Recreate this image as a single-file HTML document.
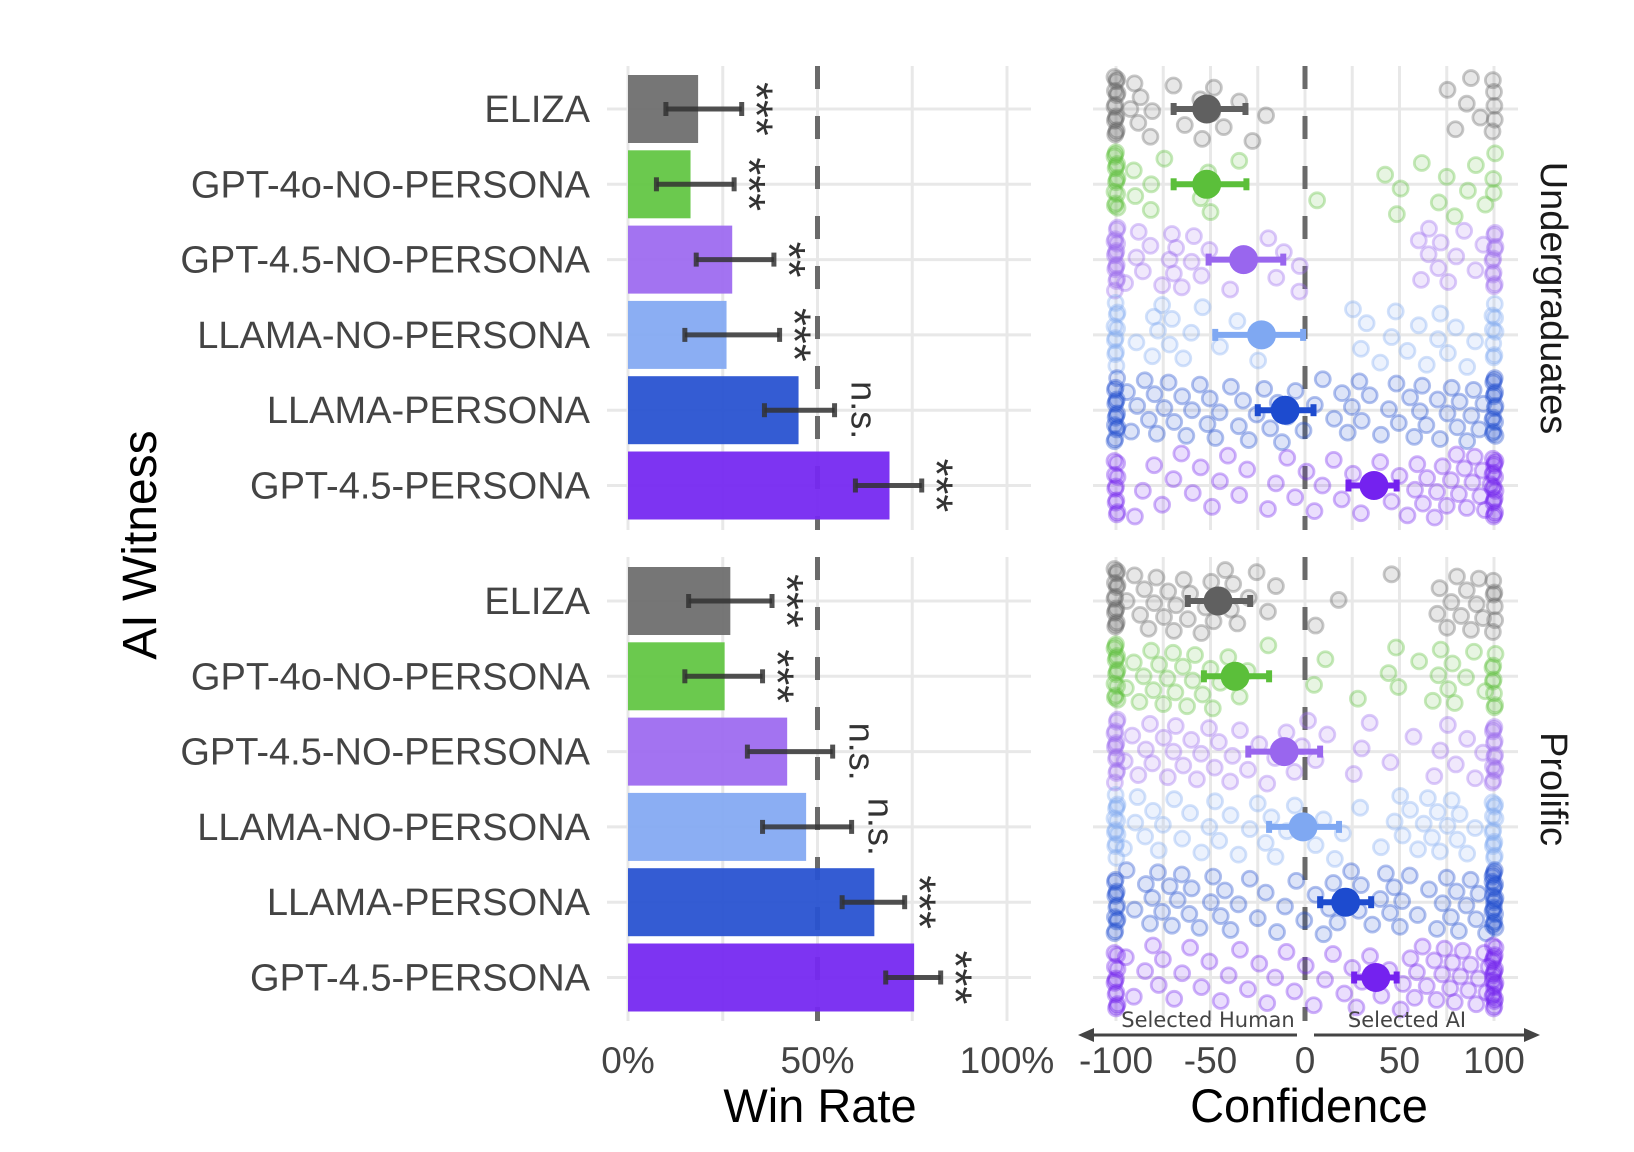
<!DOCTYPE html>
<html><head><meta charset="utf-8"><style>
html,body{margin:0;padding:0;background:#fff}
body{position:relative;width:1634px;height:1152px;overflow:hidden}
svg{display:block;font-family:"Liberation Sans",Arial,sans-serif}
</style></head><body>
<svg id="chart" width="1634" height="1152" viewBox="0 0 1634 1152" xmlns="http://www.w3.org/2000/svg">
<g id="grid"></g><g id="marks"></g><g id="labels"></g>
</svg>
<script>
// ---- data ----
const witnesses = ["ELIZA","GPT-4o-NO-PERSONA","GPT-4.5-NO-PERSONA","LLAMA-NO-PERSONA","LLAMA-PERSONA","GPT-4.5-PERSONA"];
const facets = ["Undergraduates","Prolific"];
const winRateUG = [18.5,16.5,27.5,26,45,69];
const winLoUG = [10,7.5,18,15,36,60];
const winHiUG = [30,28,38.5,40,54.5,77.5];
const sigUG = ["***","***","**","***","n.s.","***"];
const winRatePR = [27,25.5,42,47,65,75.5];
const winLoPR = [16,15,31.5,35.5,56.5,68];
const winHiPR = [38,35.5,54,59,73,82.5];
const sigPR = ["***","***","n.s.","n.s.","***","***"];
const confMeanUG = [-52,-52,-32.5,-23,-10.5,36.5];
const confLoUG = [-69.5,-69.5,-51,-47.5,-25,23];
const confHiUG = [-31.5,-31,-11.5,-1,4.5,48.5];
const confMeanPR = [-46,-37,-11,-1,21.5,37.5];
const confLoPR = [-62,-53.5,-30,-19,8,26];
const confHiPR = [-29,-19,8,18,35,48.5];
const xTicksWin = ["0%","50%","100%"];
const xTickWinVals = [0,50,100];
const xTicksConf = ["-100","-50","0","50","100"];
const xTickConfVals = [-100,-50,0,50,100];
function rep(v,n){return Array(n).fill(v);}
const scatterUG = [
 [...rep(-100,14),-93,-90,-89,-87,-81,-81,-69,-64,-55,-55,-49,-49,-43,-34,-28,-20,75,80,85,88,92,...rep(100,5)],
 [...rep(-100,14),-90,-90,-82,-81,-75,-55,-52,-50,-50,-35,7,42,49,50,62,70,75,80,86,91,95,...rep(100,3)],
 [...rep(-100,14),-95,-90,-88,-85,-82,-75,-72,-70,-70,-68,-66,-60,-58,-55,-50,-40,-30,-20,-15,-12,-3,-2,60,62,65,66,70,72,75,80,85,90,95,...rep(100,10)],
 [...rep(-100,10),-90,-80,-80,-78,-75,-72,-70,-65,-60,-55,-45,-35,-25,-20,25,30,32,40,45,48,55,60,65,70,72,75,80,85,90,...rep(100,8)],
 [...rep(-100,14),-95,-92,-88,-85,-82,-80,-78,-75,-72,-70,-65,-62,-60,-55,-52,-50,-48,-45,-40,-35,-32,-30,-25,-22,-18,-15,-12,-10,-5,0,5,10,15,20,22,25,28,30,35,40,45,48,50,55,58,60,62,65,70,72,75,78,80,82,85,88,90,92,95,...rep(100,14)],
 [...rep(-100,10),-90,-85,-80,-75,-70,-65,-60,-55,-50,-45,-40,-35,-30,-20,-15,-10,-5,0,5,10,15,20,25,30,35,40,45,50,55,58,60,62,65,68,70,72,75,78,80,82,84,86,88,90,92,94,96,98,...rep(100,16)]
];
const scatterPR = [
 [...rep(-100,14),-95,-90,-88,-85,-82,-80,-78,-75,-72,-70,-68,-65,-62,-60,-55,-52,-50,-48,-45,-42,-40,-38,-35,-30,-25,-20,-15,5,18,45,70,72,75,78,80,83,85,88,90,92,95,...rep(100,6)],
 [...rep(-100,14),-95,-90,-88,-85,-82,-80,-78,-75,-72,-70,-68,-65,-62,-60,-58,-55,-50,-48,-45,-40,-35,-30,-20,5,10,28,45,48,50,60,68,70,72,75,78,80,85,90,95,...rep(100,8)],
 [...rep(-100,12),-95,-92,-88,-85,-82,-80,-75,-72,-70,-68,-65,-60,-58,-55,-50,-48,-45,-40,-38,-35,-30,-25,-20,-15,-10,-5,-2,2,5,12,25,30,35,45,58,68,72,75,80,85,90,95,...rep(100,12)],
 [...rep(-100,12),-95,-90,-88,-85,-80,-78,-75,-70,-65,-60,-55,-50,-48,-45,-40,-35,-30,-25,-20,-18,-15,-10,-5,5,10,15,20,30,40,48,50,52,55,60,62,65,68,70,72,75,78,80,82,85,90,...rep(100,12)],
 [...rep(-100,12),-95,-90,-85,-82,-80,-78,-75,-72,-70,-68,-65,-62,-60,-55,-50,-48,-45,-42,-40,-35,-30,-25,-20,-15,-10,-5,0,5,10,12,15,18,20,25,28,30,35,40,42,45,48,50,52,55,60,65,70,72,75,78,80,82,85,88,90,92,95,...rep(100,20)],
 [...rep(-100,12),-95,-90,-85,-80,-78,-75,-70,-65,-60,-55,-50,-45,-40,-35,-30,-25,-20,-15,-10,-5,0,5,10,15,20,25,28,30,35,40,45,50,52,55,58,60,62,65,68,70,72,74,76,78,80,82,84,86,88,90,92,94,96,98,...rep(100,20)]
];
// ---- styles ----
const barCols = ["#6f6f6f","#63c645","#9e6cf0","#85aaf2","#2953d1","#7629f1"];
const ptCols = ["#606060","#5bbf3a","#9966ee","#7fa8f2","#1d4bcf","#7422ef"];
const NS="http://www.w3.org/2000/svg";
const gGrid=document.getElementById('grid'),gMarks=document.getElementById('marks'),gLab=document.getElementById('labels');
function el(tag,attrs,parent){const e=document.createElementNS(NS,tag);for(const k in attrs)e.setAttribute(k,attrs[k]);parent.appendChild(e);return e;}
const xWin=v=>628+v*3.79;
const xConf=v=>1305+v*1.89;
const facetTop=[109,601];
const rowY=(f,i)=>facetTop[f]+i*75.3;
const panelY=[[66,530],[557,1021]];

for(let f=0;f<2;f++){
  const [y0,y1]=panelY[f];
  for(const v of [0,25,50,75,100]){
    const l=el('line',{x1:xWin(v),x2:xWin(v),y1:y0,y2:y1,stroke:'#e8e8e8','stroke-width':3},gGrid);
    
    
  }
  for(let v=-100;v<=100;v+=25){
    const l=el('line',{x1:xConf(v),x2:xConf(v),y1:y0,y2:y1,stroke:'#e8e8e8','stroke-width':3},gGrid);
    
    
  }
  for(let i=0;i<6;i++){
    const y=rowY(f,i);
    el('line',{x1:607,x2:1031,y1:y,y2:y,stroke:'#e8e8e8','stroke-width':3},gGrid);
    el('line',{x1:1093,x2:1518,y1:y,y2:y,stroke:'#e8e8e8','stroke-width':3},gGrid);
  }
  const d1=el('line',{x1:xWin(50),x2:xWin(50),y1:y0,y2:y1,stroke:'#6a6a6a','stroke-width':5,'stroke-dasharray':'23 27'},gGrid);
  
  
  const d2=el('line',{x1:xConf(0),x2:xConf(0),y1:y0,y2:y1,stroke:'#6a6a6a','stroke-width':5,'stroke-dasharray':'23 27'},gGrid);
  
  

  const rate=f?winRatePR:winRateUG, lo=f?winLoPR:winLoUG, hi=f?winHiPR:winHiUG, sig=f?sigPR:sigUG;
  const cm=f?confMeanPR:confMeanUG, cl=f?confLoPR:confLoUG, ch=f?confHiPR:confHiUG, sc=f?scatterPR:scatterUG;
  for(let i=0;i<6;i++){
    const y=rowY(f,i);
    const b=el('rect',{x:xWin(0),y:y-34,width:xWin(rate[i])-xWin(0),height:68,fill:barCols[i],opacity:0.95},gMarks);
    
    
    const eg=el('g',{stroke:'#333','stroke-opacity':0.85},gMarks);
    
    
    el('line',{x1:xWin(lo[i]),x2:xWin(hi[i]),y1:y,y2:y,'stroke-width':5},eg);
    el('line',{x1:xWin(lo[i]),x2:xWin(lo[i]),y1:y-7,y2:y+7,'stroke-width':5},eg);
    el('line',{x1:xWin(hi[i]),x2:xWin(hi[i]),y1:y-7,y2:y+7,'stroke-width':5},eg);
    const isNs=sig[i]==='n.s.';
    const sx=xWin(hi[i])+(isNs?17:-1);
    const t=el('text',{x:sx,y:y,'font-size':isNs?36:46,fill:'#333','text-anchor':'middle',transform:`rotate(90 ${sx} ${y})`},gLab);
    t.textContent=sig[i];
    
    
    const pts=sc[i];
    for(let k=0;k<pts.length;k++){
      const jy=(((k*37+i*11)%61)/60-0.5)*64;
      const jx=(((k*23+i*7)%9)/8-0.5)*3;
      const c=el('circle',{cx:xConf(pts[k])+jx,cy:y+jy,r:7.5,fill:ptCols[i],'fill-opacity':0.15,stroke:ptCols[i],'stroke-opacity':0.35,'stroke-width':2.8},gMarks);
      
      
    }
  }
  for(let i=0;i<6;i++){
    const y=rowY(f,i);
    const mg=el('g',{stroke:ptCols[i],fill:ptCols[i]},gMarks);
    
    
    el('line',{x1:xConf(cl[i]),x2:xConf(ch[i]),y1:y,y2:y,'stroke-width':6},mg);
    el('line',{x1:xConf(cl[i]),x2:xConf(cl[i]),y1:y-6,y2:y+6,'stroke-width':6},mg);
    el('line',{x1:xConf(ch[i]),x2:xConf(ch[i]),y1:y-6,y2:y+6,'stroke-width':6},mg);
    el('circle',{cx:xConf(cm[i]),cy:y,r:14.5,stroke:'none'},mg);
    const lt=el('text',{x:590,y:y+13,'font-size':38,fill:'#444','text-anchor':'end'},gLab);
    lt.textContent=witnesses[i];
    
    
  }
  const fy=(y0+y1)/2;
  const ft=el('text',{x:1541,y:fy,'font-size':38,fill:'#1a1a1a','text-anchor':'middle',transform:`rotate(90 1541 ${fy})`},gLab);
  ft.textContent=facets[f];
  
  
}
for(let i=0;i<xTicksWin.length;i++){
  const t=el('text',{x:xWin(xTickWinVals[i]),y:1073,'font-size':37,fill:'#444','text-anchor':'middle'},gLab);
  t.textContent=xTicksWin[i];
  
  
}
for(let i=0;i<xTicksConf.length;i++){
  const t=el('text',{x:xConf(xTickConfVals[i]),y:1073,'font-size':37,fill:'#444','text-anchor':'middle'},gLab);
  t.textContent=xTicksConf[i];
  
  
}
</script>
<svg style="position:absolute;left:0;top:0" width="1634" height="1152">
 <text x="820" y="1122" font-size="47" text-anchor="middle" fill="#000" font-family="Liberation Sans, sans-serif">Win Rate</text>
 <text x="1309" y="1122" font-size="47" text-anchor="middle" fill="#000" font-family="Liberation Sans, sans-serif">Confidence</text>
 <text x="156" y="545" font-size="48" text-anchor="middle" fill="#000" font-family="Liberation Sans, sans-serif" transform="rotate(-90 156 545)">AI Witness</text>
 <g stroke="#444" stroke-width="3" fill="#444">
  <line x1="1297" y1="1035" x2="1085" y2="1035"/>
  <polygon points="1078,1035 1094,1028 1094,1042" stroke="none"/>
 </g>
 <g stroke="#444" stroke-width="3" fill="#444">
  <line x1="1314" y1="1035" x2="1533" y2="1035"/>
  <polygon points="1540,1035 1524,1028 1524,1042" stroke="none"/>
 </g>
 <text x="1208" y="1027" font-size="21" text-anchor="middle" fill="#444" font-family="DejaVu Sans, sans-serif">Selected Human</text>
 <text x="1407" y="1027" font-size="21" text-anchor="middle" fill="#444" font-family="DejaVu Sans, sans-serif">Selected AI</text>
</svg>
</body></html>
